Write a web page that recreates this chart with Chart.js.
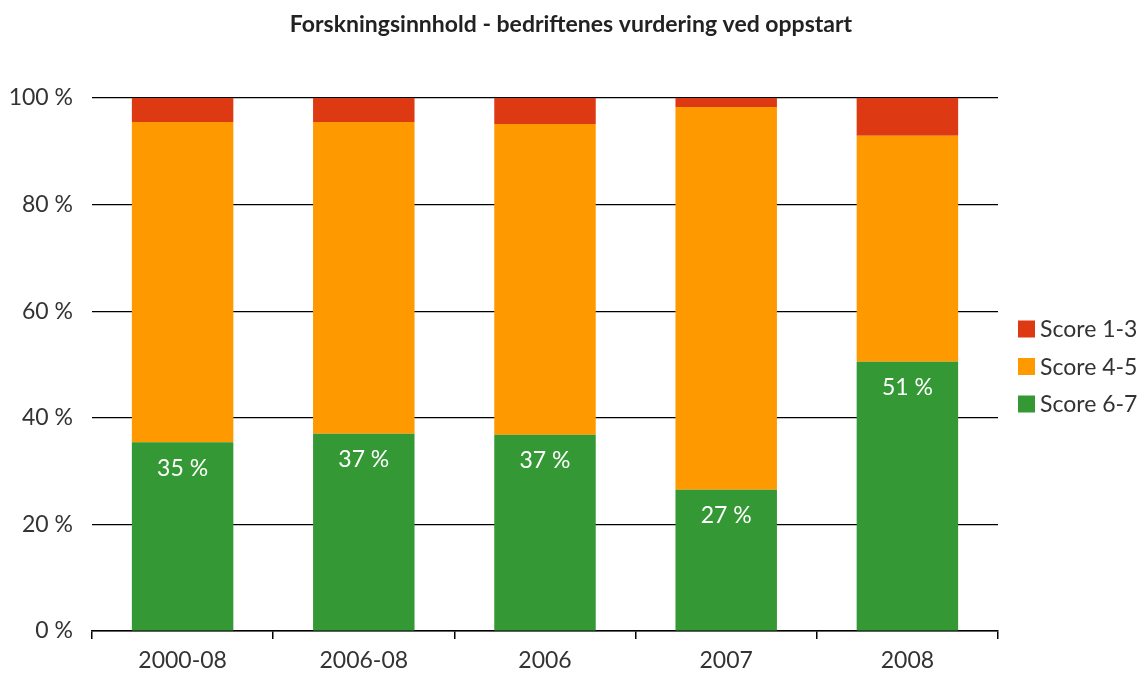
<!DOCTYPE html>
<html>
<head>
<meta charset="utf-8">
<script src="https://cdn.jsdelivr.net/npm/chart.js@4.4.1/dist/chart.umd.min.js"></script>
<style>
  html, body { margin: 0; padding: 0; background: #fff; }
  #wrap { width: 1142px; height: 682px; }
</style>
</head>
<body>
<div id="wrap"><canvas id="chart"></canvas></div>
<script>
// data
var categories = ['2000-08', '2006-08', '2006', '2007', '2008'];
var score67 = [35.4, 37.0, 36.8, 26.5, 50.5];
var score45 = [60.1, 58.5, 58.3, 71.8, 42.4];
var score13 = [4.5, 4.5, 4.9, 1.7, 7.1];
var yTicks = [0, 20, 40, 60, 80, 100];
var chartTitle = 'Forskningsinnhold - bedriftenes vurdering ved oppstart';

var colors = {
    red: '#dd3913',
    orange: '#ff9900',
    green: '#349934'
};
var fontFamily = 'Lato, "Open Sans", sans-serif';

// title centred over the whole canvas
var pageTitle = {
    id: 'pageTitle',
    afterDraw: function (chart) {
        var ctx = chart.ctx;
        ctx.save();
        ctx.fillStyle = '#222222';
        ctx.font = 'bold 23px ' + fontFamily;
        ctx.textAlign = 'center';
        ctx.textBaseline = 'middle';
        ctx.fillText(chartTitle, chart.width / 2, 25);
        ctx.restore();
    }
};

// white labels inside the green bars
var greenLabels = {
    id: 'greenLabels',
    afterDatasetsDraw: function (chart) {
        var ctx = chart.ctx;
        var meta = chart.getDatasetMeta(0);
        ctx.save();
        ctx.fillStyle = '#ffffff';
        ctx.font = '23px ' + fontFamily;
        ctx.textAlign = 'center';
        ctx.textBaseline = 'middle';
        meta.data.forEach(function (bar, i) {
            ctx.fillText(Math.round(score67[i]) + ' %', bar.x, bar.y + 26);
        });
        ctx.restore();
    }
};

// legend on the right, top item = last dataset
var sideLegend = {
    id: 'sideLegend',
    afterDraw: function (chart) {
        var ctx = chart.ctx;
        var items = chart.data.datasets.slice().reverse();
        ctx.save();
        ctx.font = '23px ' + fontFamily;
        ctx.textBaseline = 'middle';
        ctx.textAlign = 'left';
        items.forEach(function (ds, i) {
            var y = 329 + i * 37.5;
            ctx.fillStyle = ds.backgroundColor;
            ctx.fillRect(1018, y - 8.5, 17, 17);
            ctx.fillStyle = '#333333';
            ctx.fillText(ds.label, 1040, y + 1);
        });
        ctx.restore();
    }
};

new Chart(document.getElementById('chart'), {
    type: 'bar',
    data: {
        labels: categories,
        datasets: [
            { label: 'Score 6-7', data: score67, backgroundColor: colors.green },
            { label: 'Score 4-5', data: score45, backgroundColor: colors.orange },
            { label: 'Score 1-3', data: score13, backgroundColor: colors.red }
        ]
    },
    options: {
        responsive: true,
        maintainAspectRatio: false,
        animation: false,
        categoryPercentage: 1,
        barPercentage: 0.56,
        layout: { padding: { left: 0, right: 144, top: 98, bottom: 0 } },
        plugins: {
            legend: { display: false },
            tooltip: { enabled: false },
            title: { display: false }
        },
        scales: {
            x: {
                stacked: true,
                border: { display: true, color: '#000000', width: 1.5 },
                grid: {
                    offset: true,
                    drawOnChartArea: false,
                    drawTicks: true,
                    tickLength: 8,
                    color: '#000000',
                    lineWidth: 1.5
                },
                ticks: {
                    color: '#333333',
                    font: { family: fontFamily, size: 23 },
                    padding: 8
                },
                afterFit: function (scale) { scale.height = 51; }
            },
            y: {
                stacked: true,
                min: 0,
                max: 100,
                border: { display: false },
                grid: { color: '#000000', lineWidth: 1.2, drawTicks: false },
                afterBuildTicks: function (scale) {
                    scale.ticks = yTicks.map(function (v) { return { value: v }; });
                },
                ticks: {
                    color: '#333333',
                    font: { family: fontFamily, size: 23 },
                    padding: 19,
                    callback: function (v) { return v + ' %'; }
                },
                afterFit: function (scale) { scale.width = 92; }
            }
        }
    },
    plugins: [pageTitle, greenLabels, sideLegend]
});
</script>
</body>
</html>
